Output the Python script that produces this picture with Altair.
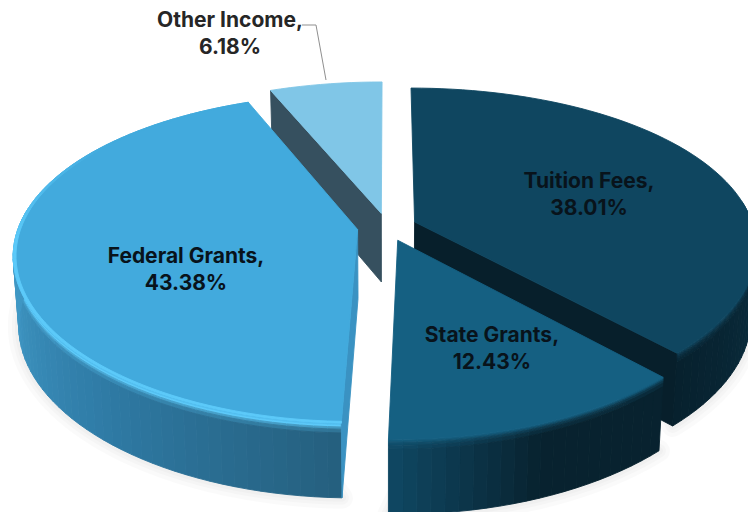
import math
import altair as alt

# ---- chart values
categories = ["Tuition Fees", "State Grants", "Federal Grants", "Other Income"]
shares = [38.01, 12.43, 43.38, 6.18]
top_colors = ["#0f4660", "#156082", "#42aadd", "#80c6e7"]
cut_colors = ["#071f2b", "#0a2b3b", "#3a92c2", "#36505f"]
wall_stops = [
    ["#0d3548", "#0d3548", "#0b3042", "#07212e"],
    ["#08222f", "#08222f", "#0f4661"],
    ["#25607f", "#2f7ba6", "#3f97c4", "#3f97c4", "#3f97c4"],
    ["#36505f", "#36505f", "#36505f"],
]
highlights = [None, None, "#5ccaf9", None]

# ---- drawing order (back to front) and layout of the tilted, exploded pie
paint_order = [3, 0, 2, 1]
cut_sides = {0: "end", 1: None, 2: "start", 3: "start"}
CX, CY, RX, RY, KX, KY, DEPTH, EXPLODE = 387, 227, 339, 158.9, 0.15, 0.175, 69, 0.088
MARGIN = 8
label_anchor = [(589, 182), (492, 336), (186, 257), (230, 21)]
label_color = ["#08131b", "#08131b", "#08131b", "#262626"]
BANDS = [0, 0.03, 0.05, 0.08, 0.13, 1]


def project(a, b, z=0.0):
    f = 1 - 0.015 * z
    return [
        CX + RX * a * f / (1 + KX * b) - MARGIN,
        CY - RY * b / (1 + KY * b) + DEPTH * (1 - 0.08 * b) * z - MARGIN,
    ]


def mix(c1, c2, t):
    p = [int(c1[i:i + 2], 16) for i in (1, 3, 5)]
    q = [int(c2[i:i + 2], 16) for i in (1, 3, 5)]
    return "#%02x%02x%02x" % tuple(round(u + (v - u) * t) for u, v in zip(p, q))


def ramp(stops, t):
    s = t * (len(stops) - 1)
    i = min(int(s), len(stops) - 2)
    return mix(stops[i], stops[i + 1], s - i)


def feature(ring, color):
    return {
        "type": "Feature",
        "properties": {"c": color},
        "geometry": {"type": "Polygon", "coordinates": [ring + [ring[0]]]},
    }


starts, acc = [], 0.0
for s in shares:
    starts.append(acc)
    acc += s
total = acc

features, shadow = [], []
for i in paint_order:
    t0 = math.radians(starts[i] / total * 360)
    t1 = math.radians((starts[i] + shares[i]) / total * 360)
    mid = (t0 + t1) / 2
    ea, eb = EXPLODE * math.sin(mid), EXPLODE * math.cos(mid)
    n = max(6, int((t1 - t0) / math.radians(2)))
    ang = [t0 + (t1 - t0) * k / n for k in range(n + 1)]

    def rim(t, z=0.0, r=1.0):
        return project(ea + r * math.sin(t), eb + r * math.cos(t), z)

    apex = lambda z=0.0: project(ea, eb, z)
    shadow.append(feature([rim(t, 1) for t in ang if math.cos(t) < 0.15] + [rim(mid, 0.5, 0.5)], "#000000"))

    # outer wall, in strips, with a bevel where it meets the top
    top, hl = top_colors[i], highlights[i]
    for k in range(n):
        if math.cos(ang[k]) > 0.1 and math.cos(ang[k + 1]) > 0.1:
            continue
        c = ramp(wall_stops[i], k / max(1, n - 1))
        bevel = (
            [mix(top, hl, 0.7), hl, mix(hl, c, 0.45), mix(hl, c, 0.8), c]
            if hl
            else [mix(top, c, 0.15), mix(top, c, 0.4), mix(top, c, 0.65), mix(top, c, 0.85), c]
        )
        for b in range(len(BANDS) - 1):
            ring = [
                rim(ang[k], BANDS[b]), rim(ang[k + 1], BANDS[b]),
                rim(ang[k + 1], BANDS[b + 1]), rim(ang[k], BANDS[b + 1]),
            ]
            features.append(feature(ring, bevel[b]))

    # cut face of the slice
    side = cut_sides[i]
    if side:
        t = t0 if side == "start" else t1
        features.append(feature([apex(), rim(t), rim(t, 1), apex(1)], cut_colors[i]))

    # top face
    features.append(feature([apex()] + [rim(t) for t in ang], top))

    # bright rim that fades out round the left of the lightest slice
    if hl:
        for k in range(n):
            fade = max(0.0, min(1.0, (math.radians(305) - ang[k]) / math.radians(40)))
            c = mix(top, hl, fade)
            ring = [rim(ang[k]), rim(ang[k + 1]), rim(ang[k + 1], 0, 0.992), rim(ang[k], 0, 0.992)]
            features.append(feature(ring, c))

leader_points = [[302, 25], [316, 25], [326, 80]]
leader = [{
    "type": "Feature",
    "properties": {},
    "geometry": {
        "type": "LineString",
        "coordinates": [[x - MARGIN, y - MARGIN] for x, y in leader_points],
    },
}]

label_rows = [
    {
        "txt": f"{categories[i]},\n{shares[i]:.2f}%",
        "lon": label_anchor[i][0] - MARGIN,
        "lat": label_anchor[i][1] - MARGIN,
        "col": label_color[i],
    }
    for i in range(len(categories))
]

proj = dict(type="identity", scale=1, translate=[0, 0])

shadow_layers = [
    alt.Chart(alt.Data(values=shadow)).mark_geoshape(
        fill="#000000", fillOpacity=0.018, stroke="#000000", strokeOpacity=0.018,
        strokeWidth=w, strokeJoin="round", clip=True,
    ).project(**proj)
    for w in (22, 14, 8)
]

slices = alt.Chart(alt.Data(values=features)).mark_geoshape(strokeWidth=0.9, clip=True).encode(
    fill=alt.Fill("properties.c:N", scale=None),
    stroke=alt.Stroke("properties.c:N", scale=None),
).project(**proj)

line = alt.Chart(alt.Data(values=leader)).mark_geoshape(
    filled=False, stroke="#8f8f8f", strokeWidth=1
).project(**proj)

labels = alt.Chart(alt.Data(values=label_rows)).mark_text(
    font="Inter", fontSize=21, fontWeight="bold", lineBreak="\n", lineHeight=27,
    align="center", baseline="middle",
).encode(
    longitude="lon:Q",
    latitude="lat:Q",
    text="txt:N",
    color=alt.Color("col:N", scale=None),
).project(**proj)

chart = alt.layer(*shadow_layers, slices, line, labels).properties(
    width=740, height=504, padding=0, background="#ffffff"
).configure_view(stroke=None)

chart.save("out.html", embed_options={"renderer": "svg", "actions": False})
